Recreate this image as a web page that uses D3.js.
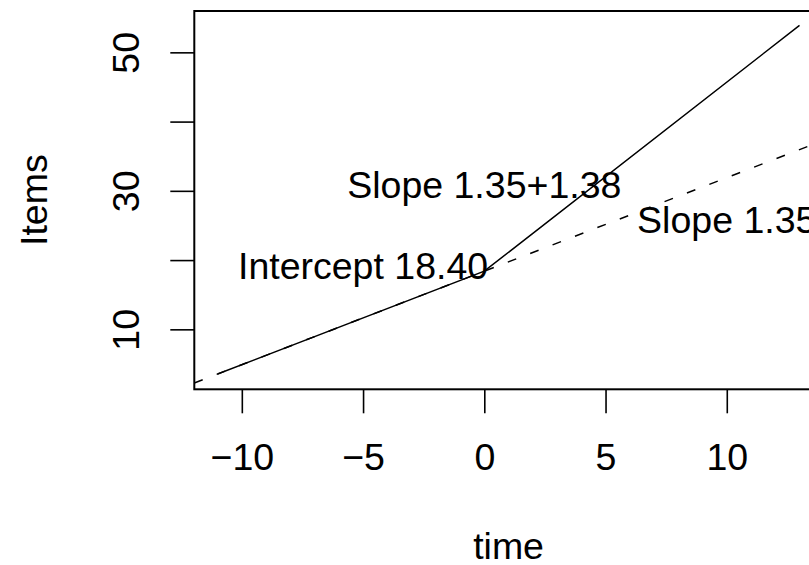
<!DOCTYPE html>
<html>
<head>
<meta charset="utf-8">
<script src="https://cdn.jsdelivr.net/npm/d3@7"></script>
<style>
  html, body { margin: 0; padding: 0; background: #fff; }
  svg { display: block; }
  text { font-family: "Liberation Sans", Arial, Helvetica, sans-serif; fill: #000; }
</style>
</head>
<body>
<svg id="chart" width="809" height="565"></svg>
<script>
// ---- data ----
const fitTime = [-11, 0, 13];
const fitItems = [3.55, 18.4, 53.89];
const refTime = [-11.96, 13.96];
const refItems = [2.25, 37.25];
const xTicks = [-10, -5, 0, 5, 10];
const xTickLabels = ["\u221210", "\u22125", "0", "5", "10"];
const yTicks = [10, 20, 30, 40, 50];
const yTickLabels = ["10", "", "30", "", "50"];
const annotText = ["Slope 1.35+1.38", "Intercept 18.40", "Slope 1.35"];
const annotX = [0, -5, 10];
const annotY = [30, 18.4, 25];
const xDomain = [-11.96, 13.96];
const yDomain = [1.34, 55.97];

// ---- layout ----
const pLeft = 194.3, pRight = 822.8, pTop = 11, pBottom = 389.3;
const fontSize = 37.5;

const svg = d3.select("#chart");
const x = d3.scaleLinear().domain(xDomain).range([pLeft, pRight]);
const y = d3.scaleLinear().domain(yDomain).range([pBottom, pTop]);

svg.append("defs").append("clipPath").attr("id", "plotclip")
  .append("rect").attr("x", pLeft).attr("y", pTop)
  .attr("width", pRight - pLeft).attr("height", pBottom - pTop);

// x axis
const xAxis = d3.axisBottom(x).tickValues(xTicks)
  .tickFormat((d, i) => xTickLabels[i]).tickSize(24).tickPadding(30);
const gx = svg.append("g").attr("transform", `translate(0,${pBottom})`).call(xAxis);
gx.select(".domain").remove();
gx.selectAll(".tick line").attr("stroke", "#000").attr("stroke-width", 1.6);
gx.selectAll(".tick text").attr("font-size", fontSize).attr("fill", "#000")
  .style("font-family", '"Liberation Sans", Arial, sans-serif');

// y axis
const yAxis = d3.axisLeft(y).tickValues(yTicks)
  .tickFormat((d, i) => yTickLabels[i]).tickSize(24);
const gy = svg.append("g").attr("transform", `translate(${pLeft},0)`).call(yAxis);
gy.select(".domain").remove();
gy.selectAll(".tick line").attr("stroke", "#000").attr("stroke-width", 1.6);
gy.selectAll(".tick text")
  .attr("x", null).attr("dy", null)
  .attr("text-anchor", "middle")
  .attr("transform", "translate(-55,0) rotate(-90)")
  .attr("font-size", fontSize).attr("fill", "#000")
  .style("font-family", '"Liberation Sans", Arial, sans-serif');

// box
svg.append("rect").attr("x", pLeft).attr("y", pTop)
  .attr("width", pRight - pLeft).attr("height", pBottom - pTop)
  .attr("fill", "none").attr("stroke", "#000").attr("stroke-width", 2);

// lines
const plot = svg.append("g").attr("clip-path", "url(#plotclip)");
const lineGen = d3.line().x(d => x(d[0])).y(d => y(d[1]));
plot.append("path")
  .datum(refTime.map((t, i) => [t, refItems[i]]))
  .attr("d", lineGen).attr("fill", "none").attr("stroke", "#000")
  .attr("stroke-width", 1.5).attr("stroke-dasharray", "9,15");
plot.append("path")
  .datum(fitTime.map((t, i) => [t, fitItems[i]]))
  .attr("d", lineGen).attr("fill", "none").attr("stroke", "#000")
  .attr("stroke-width", 1.5);

// annotations
svg.selectAll("text.annot").data(annotText).enter().append("text")
  .attr("class", "annot")
  .attr("x", (d, i) => x(annotX[i]))
  .attr("y", (d, i) => y(annotY[i]) + 7.4)
  .attr("text-anchor", "middle")
  .attr("font-size", fontSize)
  .text(d => d);

// axis titles
svg.append("text").attr("x", (pLeft + pRight) / 2).attr("y", 559)
  .attr("text-anchor", "middle").attr("font-size", fontSize).text("time");
svg.append("text")
  .attr("transform", `translate(46.5,${(pTop + pBottom) / 2}) rotate(-90)`)
  .attr("text-anchor", "middle").attr("font-size", fontSize).text("Items");
</script>
</body>
</html>
